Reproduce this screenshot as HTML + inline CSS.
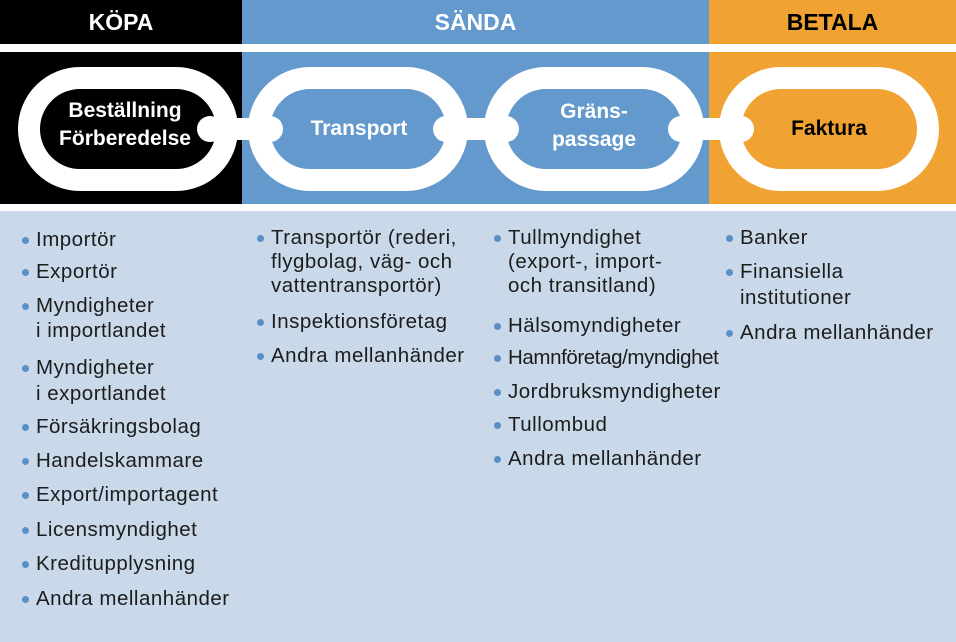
<!DOCTYPE html>
<html><head><meta charset="utf-8"><style>
*{margin:0;padding:0}
body{width:956px;height:642px;position:relative;overflow:hidden;background:#fff;font-family:"Liberation Sans",sans-serif}
.l{position:absolute;font-size:20.5px;letter-spacing:0.5px;color:#1c1c1c;white-space:nowrap;line-height:24px}
.b::before{content:"";position:absolute;left:-14px;top:9px;width:7px;height:7px;border-radius:50%;background:#5a8fc6}
.h{position:absolute;top:0;height:44px;line-height:44px;text-align:center;font-weight:bold;font-size:23px}
</style></head><body>
<div class="h" style="left:0;width:242px;background:#000;color:#fff">KÖPA</div>
<div class="h" style="left:242px;width:467px;background:#6399cc;color:#fff">SÄNDA</div>
<div class="h" style="left:709px;width:247px;background:#f0a232;color:#000">BETALA</div>
<svg style="position:absolute;left:0;top:0" width="956" height="642">
<rect x="0" y="52" width="242" height="152" fill="#000"/>
<rect x="242" y="52" width="467" height="152" fill="#6399cc"/>
<rect x="709" y="52" width="247" height="152" fill="#f0a232"/>
<rect x="0" y="211" width="956" height="431" fill="#c9d9ea"/>
<g fill="none" stroke="#fff" stroke-width="22">
<rect x="29" y="78" width="198" height="102" rx="51"/>
<rect x="259" y="78" width="198" height="102" rx="51"/>
<rect x="495" y="78" width="198" height="102" rx="51"/>
<rect x="730" y="78" width="198" height="102" rx="51"/>
</g>
<g fill="#fff">
<rect x="205" y="118" width="70" height="22"/>
<rect x="440" y="118" width="72" height="22"/>
<rect x="676" y="118" width="70" height="22"/>
<circle cx="210" cy="129" r="13"/><circle cx="270" cy="129" r="13"/>
<circle cx="446" cy="129" r="13"/><circle cx="506" cy="129" r="13"/>
<circle cx="681" cy="129" r="13"/><circle cx="741" cy="129" r="13"/>
</g>
<g font-family="Liberation Sans" font-weight="bold" font-size="21" text-anchor="middle">
<text x="125" y="117" fill="#fff">Beställning</text>
<text x="125" y="145" fill="#fff">Förberedelse</text>
<text x="359" y="135" fill="#fff">Transport</text>
<text x="594" y="118" fill="#fff">Gräns-</text>
<text x="594" y="146" fill="#fff">passage</text>
<text x="829" y="135" fill="#000">Faktura</text>
</g>
</svg>
<div class="l b" style="left:36px;top:228px">Importör</div>
<div class="l b" style="left:36px;top:260px">Exportör</div>
<div class="l b" style="left:36px;top:294px">Myndigheter</div>
<div class="l" style="left:36px;top:319px">i importlandet</div>
<div class="l b" style="left:36px;top:356px">Myndigheter</div>
<div class="l" style="left:36px;top:382px">i exportlandet</div>
<div class="l b" style="left:36px;top:415px">Försäkringsbolag</div>
<div class="l b" style="left:36px;top:449px">Handelskammare</div>
<div class="l b" style="left:36px;top:483px">Export/importagent</div>
<div class="l b" style="left:36px;top:518px">Licensmyndighet</div>
<div class="l b" style="left:36px;top:552px">Kreditupplysning</div>
<div class="l b" style="left:36px;top:587px">Andra mellanhänder</div>

<div class="l b" style="left:271px;top:226px">Transportör (rederi,</div>
<div class="l" style="left:271px;top:250px">flygbolag, väg- och</div>
<div class="l" style="left:271px;top:274px">vattentransportör)</div>
<div class="l b" style="left:271px;top:310px">Inspektionsföretag</div>
<div class="l b" style="left:271px;top:344px">Andra mellanhänder</div>

<div class="l b" style="left:508px;top:226px">Tullmyndighet</div>
<div class="l" style="left:508px;top:250px">(export-, import-</div>
<div class="l" style="left:508px;top:274px">och transitland)</div>
<div class="l b" style="left:508px;top:314px">Hälsomyndigheter</div>
<div class="l b" style="left:508px;top:346px;letter-spacing:-0.4px">Hamnföretag/myndighet</div>
<div class="l b" style="left:508px;top:380px">Jordbruksmyndigheter</div>
<div class="l b" style="left:508px;top:413px">Tullombud</div>
<div class="l b" style="left:508px;top:447px">Andra mellanhänder</div>

<div class="l b" style="left:740px;top:226px">Banker</div>
<div class="l b" style="left:740px;top:260px">Finansiella</div>
<div class="l" style="left:740px;top:286px">institutioner</div>
<div class="l b" style="left:740px;top:321px">Andra mellanhänder</div>
</body></html>
